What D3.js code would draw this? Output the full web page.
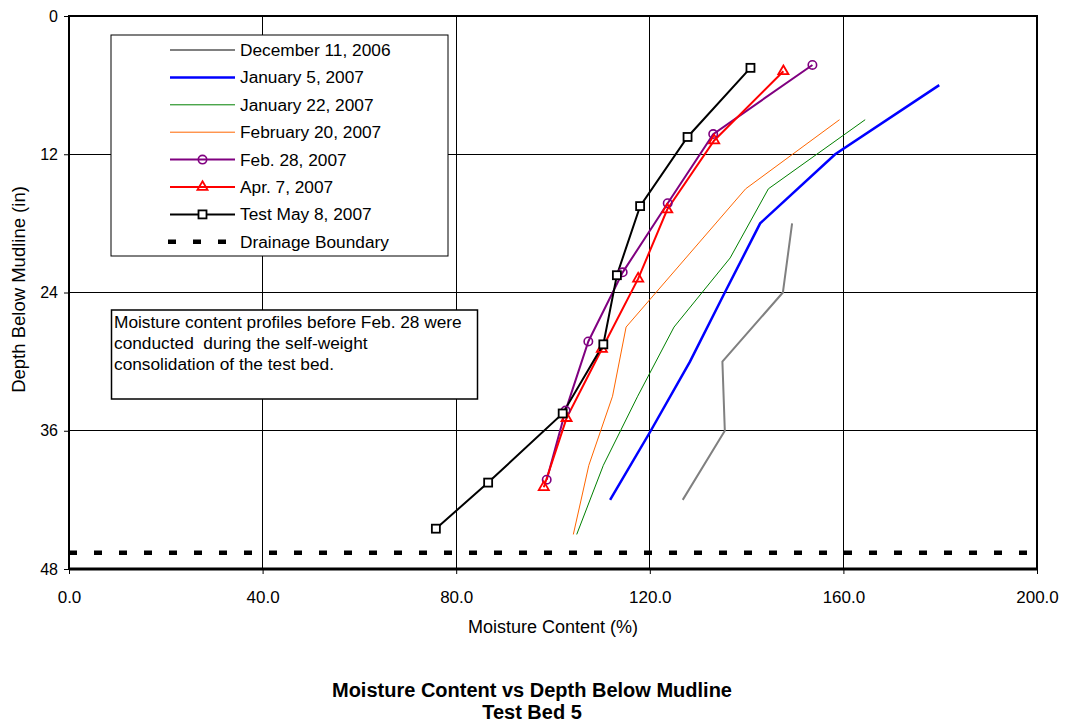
<!DOCTYPE html>
<html>
<head>
<meta charset="utf-8">
<script src="https://cdn.jsdelivr.net/npm/d3@7"></script>
<style>
  body { margin: 0; background: #fff; }
  svg { display: block; font-family: "Liberation Sans", Arial, sans-serif; }
</style>
</head>
<body>
<svg id="chart" width="1067" height="725"></svg>
<script>
// ---- data ----
const xTicks = [0, 40, 80, 120, 160, 200];
const yTicks = [0, 12, 24, 36, 48];

const dec11Depth = [18, 24, 30, 36, 42];
const dec11 = [149.4, 147.5, 135.0, 135.5, 126.8];

const jan5Depth = [6, 12, 18, 24, 30, 36, 42];
const jan5 = [179.8, 158.3, 142.8, 135.5, 128.3, 120.2, 111.8];

const jan22Depth = [9, 15, 21, 27, 33, 39, 45];
const jan22 = [164.5, 144.5, 136.6, 125.0, 117.5, 110.4, 104.9];

const feb20Depth = [9, 15, 27, 33, 39, 45];
const feb20 = [159.2, 139.8, 115.1, 112.3, 107.4, 104.2];

const feb28Depth = [4.25, 10.25, 16.25, 22.25, 28.25, 34.25, 40.25];
const feb28 = [153.6, 133.1, 123.7, 114.4, 107.3, 102.6, 98.7];

const apr7Depth = [4.8, 10.8, 16.8, 22.8, 28.9, 34.9, 40.9];
const apr7 = [147.6, 133.3, 123.6, 117.6, 110.1, 102.8, 98.1];

const may8Depth = [4.5, 10.5, 16.5, 22.5, 28.5, 34.5, 40.5, 44.5];
const may8 = [140.8, 127.8, 118.0, 113.2, 110.4, 102.0, 86.6, 75.8];

const drainageDepth = 46.6;

const seriesNames = ["December 11, 2006", "January 5, 2007", "January 22, 2007",
  "February 20, 2007", "Feb. 28, 2007", "Apr. 7, 2007", "Test May 8, 2007"];
const noteLines = ["Moisture content profiles before Feb. 28 were",
  "conducted  during the self-weight", "consolidation of the test bed."];

// ---- build series ----
const zip = (xs, ds) => xs.map((v, i) => ({ x: v, d: ds[i] }));
const series = [
  { name: seriesNames[0], pts: zip(dec11, dec11Depth), color: "#808080", w: 2, marker: null },
  { name: seriesNames[1], pts: zip(jan5, jan5Depth), color: "#0000ff", w: 2.5, marker: null },
  { name: seriesNames[2], pts: zip(jan22, jan22Depth), color: "#008000", w: 1, marker: null },
  { name: seriesNames[3], pts: zip(feb20, feb20Depth), color: "#ff6600", w: 1, marker: null },
  { name: seriesNames[4], pts: zip(feb28, feb28Depth), color: "#800080", w: 2, marker: "circle" },
  { name: seriesNames[5], pts: zip(apr7, apr7Depth), color: "#ff0000", w: 2, marker: "triangle" },
  { name: seriesNames[6], pts: zip(may8, may8Depth), color: "#000000", w: 2, marker: "square" }
];

// ---- layout ----
const svg = d3.select("#chart");
const L = 69, T = 16, R = 1037, B = 569;
const x = d3.scaleLinear().domain([0, 200]).range([L, R]);
const y = d3.scaleLinear().domain([0, 48]).range([T, B]);

// gridlines
const g = svg.append("g");
g.selectAll(".vg").data(xTicks.slice(1, -1)).enter().append("line")
  .attr("x1", d => x(d)).attr("x2", d => x(d)).attr("y1", T).attr("y2", B)
  .attr("stroke", "#000").attr("stroke-width", 1).attr("shape-rendering", "crispEdges");
g.selectAll(".hg").data(yTicks.slice(1, -1)).enter().append("line")
  .attr("x1", L).attr("x2", R).attr("y1", d => y(d)).attr("y2", d => y(d))
  .attr("stroke", "#000").attr("stroke-width", 1).attr("shape-rendering", "crispEdges");

// axes
const xAxis = d3.axisBottom(x).tickValues(xTicks).tickFormat(d3.format(".1f")).tickSize(5).tickPadding(17);
const yAxis = d3.axisLeft(y).tickValues(yTicks).tickSize(5).tickPadding(6);
const xa = svg.append("g").attr("transform", `translate(0,${B})`).call(xAxis);
const ya = svg.append("g").attr("transform", `translate(${L},0)`).call(yAxis);
[xa, ya].forEach(a => {
  a.select(".domain").remove();
  a.selectAll("text").attr("fill", "#000")
    .attr("font-family", "Liberation Sans, Arial, sans-serif");
  a.selectAll("line").attr("stroke", "#000");
});
xa.selectAll("text").attr("font-size", 17);
ya.selectAll("text").attr("font-size", 16);

// frame
svg.append("rect").attr("x", L).attr("y", T).attr("width", R - L).attr("height", B - T)
  .attr("fill", "none").attr("stroke", "#000").attr("stroke-width", 2);
svg.append("line").attr("x1", L).attr("x2", R).attr("y1", B).attr("y2", B)
  .attr("stroke", "#000").attr("stroke-width", 3);

// drainage boundary
svg.append("line").attr("x1", x(0)).attr("x2", x(200))
  .attr("y1", y(drainageDepth)).attr("y2", y(drainageDepth))
  .attr("stroke", "#000").attr("stroke-width", 4.5).attr("stroke-dasharray", "8,17");

// series lines
const line = d3.line().x(p => x(p.x)).y(p => y(p.d));
series.forEach(s => {
  svg.append("path").datum(s.pts).attr("d", line)
    .attr("fill", "none").attr("stroke", s.color).attr("stroke-width", s.w)
    .attr("stroke-linejoin", "miter");
});

function drawMarker(sel, type, color, cx, cy) {
  if (type === "circle") {
    sel.append("circle").attr("cx", cx).attr("cy", cy).attr("r", 4.2)
      .attr("fill", "none").attr("stroke", color).attr("stroke-width", 1.6);
  } else if (type === "triangle") {
    sel.append("path").attr("d", d3.symbol().type(d3.symbolTriangle).size(44)())
      .attr("transform", `translate(${cx},${cy})`)
      .attr("fill", "none").attr("stroke", color).attr("stroke-width", 1.8);
  } else if (type === "square") {
    sel.append("rect").attr("x", cx - 4).attr("y", cy - 4).attr("width", 8).attr("height", 8)
      .attr("fill", "#fff").attr("stroke", color).attr("stroke-width", 1.8);
  }
}
series.forEach(s => {
  if (!s.marker) return;
  const mg = svg.append("g");
  s.pts.forEach(p => drawMarker(mg, s.marker, s.color, x(p.x), y(p.d)));
});

// legend
const lg = svg.append("g");
lg.append("rect").attr("x", 111).attr("y", 35).attr("width", 337).attr("height", 221)
  .attr("fill", "#fff").attr("stroke", "#000").attr("stroke-width", 1);
const rowY = i => 50 + i * 27.4;
series.forEach((s, i) => {
  const yy = rowY(i);
  lg.append("line").attr("x1", 170).attr("x2", 235).attr("y1", yy).attr("y2", yy)
    .attr("stroke", s.color).attr("stroke-width", s.w);
  if (s.marker) drawMarker(lg, s.marker, s.color, 202.5, yy);
  lg.append("text").attr("x", 240).attr("y", yy).attr("dy", "0.35em")
    .attr("font-size", 17.3).text(s.name);
});
{
  const yy = rowY(7);
  lg.append("line").attr("x1", 168).attr("x2", 228).attr("y1", yy).attr("y2", yy)
    .attr("stroke", "#000").attr("stroke-width", 4.5).attr("stroke-dasharray", "8,17");
  lg.append("text").attr("x", 240).attr("y", yy).attr("dy", "0.35em")
    .attr("font-size", 17.3).text("Drainage Boundary");
}

// note box
const ng = svg.append("g");
ng.append("rect").attr("x", 111.5).attr("y", 310).attr("width", 366).attr("height", 89)
  .attr("fill", "#fff").attr("stroke", "#000").attr("stroke-width", 1.5);
ng.selectAll("text").data(noteLines).enter().append("text")
  .attr("x", 114).attr("y", (d, i) => 322 + i * 21).attr("dy", "0.35em")
  .attr("font-size", 17.3).attr("xml:space", "preserve").style("white-space", "pre").text(d => d);

// axis titles
svg.append("text").attr("x", (L + R) / 2).attr("y", 627).attr("dy", "0.35em")
  .attr("text-anchor", "middle").attr("font-size", 18).text("Moisture Content (%)");
svg.append("text").attr("transform", `translate(19,${(T + B) / 2 - 3}) rotate(-90)`)
  .attr("dy", "0.35em").attr("text-anchor", "middle").attr("font-size", 18.5)
  .text("Depth Below Mudline (in)");

// chart title
svg.append("text").attr("x", 532).attr("y", 690).attr("dy", "0.35em")
  .attr("text-anchor", "middle").attr("font-size", 20).attr("font-weight", "bold")
  .text("Moisture Content vs Depth Below Mudline");
svg.append("text").attr("x", 532).attr("y", 712).attr("dy", "0.35em")
  .attr("text-anchor", "middle").attr("font-size", 20).attr("font-weight", "bold")
  .text("Test Bed 5");
</script>
</body>
</html>
